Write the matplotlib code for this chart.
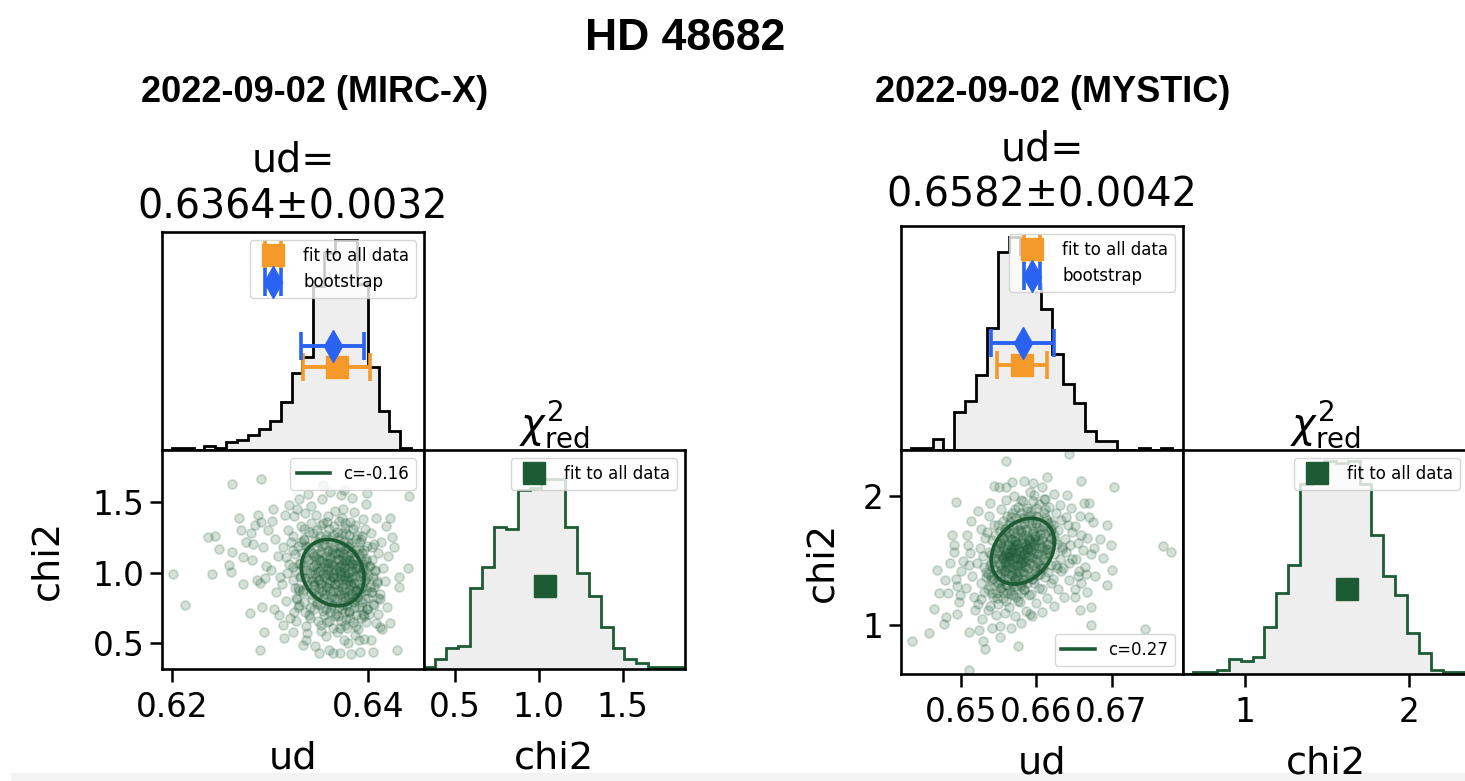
import numpy as np
import matplotlib.pyplot as plt
from matplotlib.patches import Rectangle

# ---- HD 48682, 2022-09-02: uniform disk fits, MIRC-X and MYSTIC ----

# bootstrap samples (ud [mas], reduced chi2), MIRC-X
mircx_boot = np.array([
    [0.6201, 0.993], [0.6213, 0.770], [0.6237, 1.251], [0.6241, 0.993], [0.6244, 1.263], [0.6248, 1.169],
    [0.6261, 1.627], [0.6261, 1.145], [0.6258, 1.051], [0.6260, 1.004],
    [0.6268, 1.391], [0.6273, 0.923], [0.6273, 1.110], [0.6270, 1.300], [0.6276, 1.220],
    [0.6280, 0.711], [0.6282, 1.090], [0.6285, 1.340], [0.6283, 1.200], [0.6287, 0.950], [0.6281, 1.280], [0.6288, 1.410],
    [0.6291, 1.662], [0.6294, 0.582], [0.6290, 0.453], [0.6292, 0.758], [0.6290, 0.930], [0.6295, 0.960],
    [0.6293, 1.180], [0.6298, 1.300], [0.6296, 1.050], [0.6291, 1.360],
    [0.6302, 1.368], [0.6309, 0.699], [0.6304, 0.740], [0.6306, 0.860], [0.6301, 1.020], [0.6308, 1.120],
    [0.6303, 1.450], [0.6310, 0.970], [0.6305, 1.240],
    [0.6314, 0.535], [0.6316, 0.800], [0.6312, 0.920], [0.6319, 1.060], [0.6313, 1.180], [0.6318, 1.300],
    [0.6315, 1.410], [0.6320, 0.680], [0.6317, 1.000], [0.6321, 1.220], [0.6313, 0.630], [0.6319, 1.480], [0.6316, 1.110],
    [0.6323, 0.58], [0.6325, 0.72], [0.6328, 0.81], [0.6330, 0.88], [0.6324, 0.95], [0.6327, 1.01], [0.6331, 1.07],
    [0.6326, 1.13], [0.6329, 1.19], [0.6323, 1.26], [0.6332, 1.33], [0.6325, 1.40], [0.6330, 1.52], [0.6327, 0.66],
    [0.6331, 0.97], [0.6324, 1.16], [0.6328, 1.45], [0.6326, 0.89], [0.6332, 1.22], [0.6329, 0.76], [0.6323, 1.04],
    [0.6334, 0.49], [0.6337, 0.62], [0.6340, 0.70], [0.6335, 0.79], [0.6342, 0.85], [0.6338, 0.91], [0.6336, 0.96],
    [0.6341, 1.00], [0.6334, 1.05], [0.6339, 1.09], [0.6343, 1.14], [0.6337, 1.19], [0.6335, 1.24], [0.6340, 1.29],
    [0.6342, 1.35], [0.6336, 1.42], [0.6339, 1.56], [0.6341, 0.75], [0.6334, 0.88], [0.6338, 1.02], [0.6343, 0.94],
    [0.6337, 1.11], [0.6340, 1.17], [0.6335, 1.31], [0.6342, 1.47], [0.6338, 0.57],
    [0.6346, 0.48], [0.6352, 0.59], [0.6349, 0.66], [0.6355, 0.70], [0.6345, 0.74], [0.6351, 0.77], [0.6348, 0.79],
    [0.6354, 0.82], [0.6347, 0.84], [0.6353, 0.87], [0.6350, 0.89], [0.6345, 0.91], [0.6352, 0.93], [0.6349, 0.95],
    [0.6355, 0.97], [0.6346, 0.99], [0.6351, 1.01], [0.6348, 1.03], [0.6354, 1.04], [0.6347, 1.06], [0.6353, 1.08],
    [0.6350, 1.10], [0.6345, 1.12], [0.6352, 1.15], [0.6349, 1.18], [0.6355, 1.20], [0.6346, 1.23], [0.6351, 1.26],
    [0.6348, 1.30], [0.6354, 1.35], [0.6347, 1.41], [0.6353, 1.52],
    [0.6360, 0.45], [0.6357, 0.55], [0.6364, 0.61], [0.6358, 0.65], [0.6366, 0.69], [0.6361, 0.72], [0.6357, 0.74],
    [0.6363, 0.77], [0.6359, 0.79], [0.6365, 0.81], [0.6362, 0.83], [0.6356, 0.85], [0.6364, 0.87], [0.6360, 0.89],
    [0.6358, 0.90], [0.6366, 0.92], [0.6361, 0.94], [0.6357, 0.96], [0.6363, 0.97], [0.6359, 0.99], [0.6365, 1.00],
    [0.6362, 1.02], [0.6358, 1.03], [0.6364, 1.05], [0.6360, 1.07], [0.6366, 1.08], [0.6361, 1.10], [0.6357, 1.12],
    [0.6363, 1.14], [0.6359, 1.16], [0.6365, 1.18], [0.6362, 1.21], [0.6356, 1.24], [0.6364, 1.27], [0.6360, 1.31],
    [0.6358, 1.36], [0.6366, 1.44], [0.6361, 1.57],
    [0.6371, 0.43], [0.6375, 0.52], [0.6368, 0.58], [0.6377, 0.63], [0.6372, 0.66], [0.6369, 0.69], [0.6376, 0.72],
    [0.6373, 0.74], [0.6370, 0.76], [0.6374, 0.79], [0.6368, 0.81], [0.6377, 0.83], [0.6371, 0.85], [0.6375, 0.86],
    [0.6369, 0.88], [0.6373, 0.90], [0.6376, 0.92], [0.6370, 0.93], [0.6374, 0.95], [0.6368, 0.97], [0.6372, 0.98],
    [0.6377, 1.00], [0.6371, 1.01], [0.6375, 1.03], [0.6369, 1.04], [0.6373, 1.06], [0.6376, 1.08], [0.6370, 1.09],
    [0.6374, 1.11], [0.6368, 1.13], [0.6372, 1.15], [0.6377, 1.17], [0.6371, 1.19], [0.6375, 1.22], [0.6369, 1.25],
    [0.6373, 1.28], [0.6376, 1.32], [0.6370, 1.37], [0.6374, 1.45], [0.6372, 1.55],
    [0.6383, 0.42], [0.6380, 0.50], [0.6387, 0.56], [0.6379, 0.61], [0.6385, 0.65], [0.6382, 0.68], [0.6388, 0.70],
    [0.6381, 0.73], [0.6386, 0.75], [0.6379, 0.77], [0.6384, 0.79], [0.6387, 0.81], [0.6380, 0.83], [0.6383, 0.85],
    [0.6388, 0.87], [0.6381, 0.88], [0.6385, 0.90], [0.6382, 0.92], [0.6386, 0.93], [0.6379, 0.95], [0.6384, 0.97],
    [0.6387, 0.98], [0.6380, 1.00], [0.6383, 1.01], [0.6388, 1.03], [0.6381, 1.05], [0.6385, 1.06], [0.6382, 1.08],
    [0.6386, 1.10], [0.6379, 1.12], [0.6384, 1.14], [0.6387, 1.16], [0.6380, 1.18], [0.6383, 1.21], [0.6388, 1.24],
    [0.6381, 1.27], [0.6385, 1.31], [0.6382, 1.36], [0.6386, 1.43], [0.6384, 1.53],
    [0.6392, 0.44], [0.6396, 0.53], [0.6390, 0.60], [0.6398, 0.65], [0.6393, 0.68], [0.6395, 0.71], [0.6399, 0.74],
    [0.6391, 0.76], [0.6394, 0.79], [0.6397, 0.81], [0.6390, 0.83], [0.6393, 0.86], [0.6398, 0.88], [0.6395, 0.90],
    [0.6391, 0.92], [0.6396, 0.94], [0.6399, 0.96], [0.6392, 0.98], [0.6394, 1.00], [0.6397, 1.02], [0.6390, 1.04],
    [0.6395, 1.06], [0.6398, 1.08], [0.6393, 1.10], [0.6391, 1.13], [0.6396, 1.16], [0.6399, 1.19], [0.6392, 1.22],
    [0.6394, 1.26], [0.6397, 1.31], [0.6395, 1.38], [0.6398, 1.49],
    [0.6403, 0.52], [0.6408, 0.64], [0.6401, 0.71], [0.6406, 0.77], [0.6410, 0.82], [0.6404, 0.86], [0.6402, 0.90],
    [0.6409, 0.93], [0.6405, 0.97], [0.6407, 1.01], [0.6401, 1.05], [0.6404, 1.09], [0.6410, 1.14], [0.6406, 1.20],
    [0.6403, 1.28], [0.6408, 1.39],
    [0.6414, 0.60], [0.6419, 0.76], [0.6412, 0.85], [0.6417, 0.94], [0.6415, 1.03], [0.6420, 1.12], [0.6413, 1.22],
    [0.6418, 1.33],
    [0.6422, 1.391], [0.6424, 1.250], [0.6426, 1.180], [0.6432, 0.970], [0.6432, 0.900], [0.6422, 0.641],
    [0.6429, 0.453], [0.6442, 1.544], [0.6441, 1.030],
    [0.6405, 0.441], [0.6364, 0.430], [0.6350, 0.430], [0.6337, 0.521], [0.6391, 0.523], [0.6412, 0.615],
    [0.6354, 1.622], [0.6375, 1.586], [0.6399, 1.563],
    # dense core
    [0.6352, 0.63], [0.6371, 0.61], [0.6388, 0.62],
    [0.6341, 0.68], [0.6360, 0.66], [0.6378, 0.67], [0.6396, 0.69],
    [0.6336, 0.72], [0.6354, 0.73], [0.6367, 0.71], [0.6381, 0.72], [0.6399, 0.74], [0.6410, 0.71],
    [0.6330, 0.77], [0.6348, 0.78], [0.6362, 0.76], [0.6374, 0.77], [0.6386, 0.79], [0.6394, 0.76], [0.6405, 0.78],
    [0.6327, 0.82], [0.6343, 0.81], [0.6356, 0.83], [0.6366, 0.82], [0.6377, 0.80], [0.6389, 0.83], [0.6400, 0.82],
    [0.6412, 0.81],
    [0.6334, 0.86], [0.6350, 0.85], [0.6361, 0.87], [0.6370, 0.86], [0.6380, 0.84], [0.6391, 0.87], [0.6403, 0.86],
    [0.6346, 0.88], [0.6384, 0.85],
    [0.6329, 0.89], [0.6345, 0.91], [0.6357, 0.90], [0.6366, 0.92], [0.6374, 0.88], [0.6383, 0.91], [0.6393, 0.89],
    [0.6406, 0.90], [0.6352, 0.92], [0.6388, 0.88],
    [0.6338, 0.94], [0.6350, 0.95], [0.6360, 0.93], [0.6369, 0.94], [0.6377, 0.96], [0.6386, 0.93], [0.6397, 0.95],
    [0.6409, 0.94], [0.6343, 0.96], [0.6381, 0.94], [0.6365, 0.96],
    [0.6332, 0.98], [0.6347, 0.97], [0.6357, 0.99], [0.6364, 0.98], [0.6372, 1.00], [0.6380, 0.97], [0.6389, 0.99],
    [0.6400, 0.98], [0.6354, 1.00], [0.6376, 0.98], [0.6393, 1.00],
    [0.6336, 1.02], [0.6349, 1.01], [0.6359, 1.03], [0.6367, 1.02], [0.6375, 1.04], [0.6384, 1.01], [0.6395, 1.03],
    [0.6407, 1.02], [0.6344, 1.04], [0.6371, 1.01], [0.6388, 1.03],
    [0.6330, 1.06], [0.6345, 1.05], [0.6355, 1.07], [0.6363, 1.06], [0.6371, 1.05], [0.6379, 1.07], [0.6390, 1.06],
    [0.6402, 1.05], [0.6358, 1.07], [0.6384, 1.06],
    [0.6340, 1.10], [0.6351, 1.09], [0.6361, 1.11], [0.6369, 1.10], [0.6377, 1.09], [0.6386, 1.11], [0.6398, 1.10],
    [0.6347, 1.11], [0.6381, 1.09],
    [0.6333, 1.14], [0.6348, 1.13], [0.6358, 1.15], [0.6366, 1.14], [0.6374, 1.13], [0.6383, 1.15], [0.6394, 1.14],
    [0.6370, 1.15],
    [0.6339, 1.18], [0.6353, 1.19], [0.6363, 1.17], [0.6372, 1.18], [0.6381, 1.19], [0.6391, 1.17], [0.6404, 1.18],
    [0.6335, 1.23], [0.6349, 1.22], [0.6360, 1.24], [0.6370, 1.23], [0.6380, 1.22], [0.6393, 1.24],
    [0.6344, 1.28], [0.6357, 1.27], [0.6368, 1.29], [0.6378, 1.28], [0.6389, 1.27],
    [0.6352, 1.34], [0.6365, 1.33], [0.6376, 1.35], [0.6387, 1.34],
    [0.6359, 1.40], [0.6373, 1.39],
])

# bootstrap samples (ud [mas], reduced chi2), MYSTIC
mystic_boot = np.array([
    [0.6435, 0.876], [0.6457, 0.938], [0.6464, 1.127], [0.6468, 1.424], [0.6470, 1.250], [0.6477, 1.011], [0.6480, 1.062],
    [0.6478, 1.35], [0.6485, 1.48], [0.6490, 1.62], [0.6482, 1.25], [0.6488, 1.70],
    [0.6493, 1.953], [0.6495, 1.088], [0.6491, 1.566], [0.6495, 1.300], [0.6500, 1.420], [0.6497, 1.180],
    [0.6502, 1.500], [0.6493, 1.360], [0.6499, 1.230],
    [0.6511, 0.946], [0.6511, 0.649], [0.6513, 1.812], [0.6508, 1.700], [0.6515, 1.380], [0.6510, 1.470],
    [0.6517, 1.220], [0.6506, 1.290], [0.6512, 1.560], [0.6518, 1.120], [0.6509, 1.620],
    [0.6524, 0.959], [0.6528, 1.05], [0.6522, 1.16], [0.6531, 1.26], [0.6526, 1.33], [0.6533, 1.41], [0.6521, 1.48],
    [0.6529, 1.54], [0.6525, 1.60], [0.6532, 1.68], [0.6527, 1.75], [0.6523, 1.89], [0.6530, 1.45], [0.6526, 1.20],
    [0.6533, 1.37], [0.6529, 0.88],
    [0.6537, 1.85], [0.6544, 2.083], [0.6532, 0.817], [0.6541, 0.98], [0.6546, 1.08], [0.6538, 1.15], [0.6543, 1.22],
    [0.6536, 1.28], [0.6547, 1.33], [0.6540, 1.38], [0.6545, 1.43], [0.6539, 1.47], [0.6542, 1.52], [0.6537, 1.57],
    [0.6546, 1.61], [0.6541, 1.66], [0.6535, 1.72], [0.6544, 1.78], [0.6538, 1.95], [0.6547, 1.25], [0.6540, 1.55],
    [0.6543, 1.36], [0.6536, 1.12], [0.6545, 1.70],
    [0.6551, 0.99], [0.6558, 1.09], [0.6549, 1.16], [0.6555, 1.21], [0.6561, 1.25], [0.6553, 1.29], [0.6559, 1.31],
    [0.6550, 1.33], [0.6556, 1.36], [0.6562, 1.38], [0.6552, 1.40], [0.6557, 1.42], [0.6554, 1.44], [0.6560, 1.46],
    [0.6551, 1.48], [0.6558, 1.49], [0.6549, 1.51], [0.6555, 1.53], [0.6561, 1.54], [0.6553, 1.55], [0.6559, 1.57],
    [0.6550, 1.58], [0.6556, 1.60], [0.6562, 1.62], [0.6552, 1.64], [0.6557, 1.66], [0.6554, 1.68], [0.6560, 1.70],
    [0.6551, 1.73], [0.6558, 1.75], [0.6549, 1.78], [0.6555, 1.81], [0.6561, 1.85], [0.6553, 1.90], [0.6559, 1.97],
    [0.6550, 2.07], [0.6556, 1.52], [0.6562, 1.56], [0.6552, 1.63],
    [0.6566, 0.98], [0.6572, 1.07], [0.6564, 1.14], [0.6575, 1.19], [0.6569, 1.23], [0.6565, 1.27], [0.6573, 1.30],
    [0.6568, 1.32], [0.6576, 1.35], [0.6570, 1.37], [0.6567, 1.39], [0.6574, 1.41], [0.6571, 1.43], [0.6566, 1.45],
    [0.6572, 1.47], [0.6564, 1.49], [0.6575, 1.51], [0.6569, 1.52], [0.6565, 1.54], [0.6573, 1.55], [0.6568, 1.57],
    [0.6576, 1.58], [0.6570, 1.60], [0.6567, 1.62], [0.6574, 1.63], [0.6571, 1.65], [0.6566, 1.67], [0.6572, 1.69],
    [0.6564, 1.71], [0.6575, 1.74], [0.6569, 1.77], [0.6565, 1.80], [0.6573, 1.83], [0.6568, 1.87], [0.6576, 1.92],
    [0.6570, 2.00], [0.6567, 2.11], [0.6574, 1.46], [0.6571, 1.53], [0.6566, 1.59], [0.6572, 1.36], [0.6564, 1.72],
    [0.6580, 1.02], [0.6586, 1.11], [0.6578, 1.18], [0.6590, 1.23], [0.6583, 1.27], [0.6579, 1.30], [0.6588, 1.33],
    [0.6582, 1.35], [0.6591, 1.38], [0.6584, 1.40], [0.6581, 1.42], [0.6589, 1.44], [0.6585, 1.46], [0.6580, 1.48],
    [0.6586, 1.50], [0.6578, 1.52], [0.6590, 1.54], [0.6583, 1.56], [0.6579, 1.57], [0.6588, 1.59], [0.6582, 1.61],
    [0.6591, 1.63], [0.6584, 1.64], [0.6581, 1.66], [0.6589, 1.68], [0.6585, 1.70], [0.6580, 1.72], [0.6586, 1.75],
    [0.6578, 1.78], [0.6590, 1.80], [0.6583, 1.83], [0.6579, 1.87], [0.6588, 1.91], [0.6582, 1.96], [0.6591, 2.03],
    [0.6584, 2.12], [0.6581, 1.49], [0.6589, 1.60], [0.6585, 1.36],
    [0.6594, 1.07], [0.6600, 1.17], [0.6593, 1.24], [0.6604, 1.29], [0.6597, 1.33], [0.6595, 1.36], [0.6602, 1.39],
    [0.6598, 1.42], [0.6605, 1.44], [0.6596, 1.47], [0.6601, 1.49], [0.6599, 1.51], [0.6594, 1.53], [0.6600, 1.56],
    [0.6593, 1.58], [0.6604, 1.60], [0.6597, 1.62], [0.6595, 1.64], [0.6602, 1.66], [0.6598, 1.69], [0.6605, 1.71],
    [0.6596, 1.73], [0.6601, 1.76], [0.6599, 1.79], [0.6594, 1.82], [0.6600, 1.85], [0.6593, 1.89], [0.6604, 1.94],
    [0.6597, 2.01], [0.6595, 2.10], [0.6602, 1.55], [0.6598, 1.67], [0.6605, 1.40],
    [0.6608, 1.10], [0.6614, 1.21], [0.6607, 1.28], [0.6619, 1.33], [0.6611, 1.37], [0.6616, 1.41], [0.6609, 1.44],
    [0.6620, 1.47], [0.6613, 1.50], [0.6610, 1.53], [0.6617, 1.56], [0.6612, 1.58], [0.6608, 1.61], [0.6614, 1.63],
    [0.6607, 1.66], [0.6619, 1.68], [0.6611, 1.71], [0.6616, 1.74], [0.6609, 1.77], [0.6620, 1.80], [0.6613, 1.83],
    [0.6610, 1.87], [0.6617, 1.92], [0.6612, 1.98], [0.6608, 2.07], [0.6614, 1.59], [0.6607, 1.45], [0.6619, 1.75],
    [0.6623, 1.15], [0.6629, 1.28], [0.6622, 1.36], [0.6633, 1.42], [0.6626, 1.47], [0.6631, 1.51], [0.6624, 1.55],
    [0.6634, 1.59], [0.6628, 1.63], [0.6625, 1.66], [0.6623, 1.70], [0.6629, 1.74], [0.6622, 1.78], [0.6633, 1.82],
    [0.6626, 1.87], [0.6631, 1.93], [0.6624, 2.02], [0.6634, 1.61], [0.6628, 1.44],
    [0.6637, 1.22], [0.6643, 1.35], [0.6636, 1.44], [0.6647, 1.51], [0.6640, 1.57], [0.6645, 1.62], [0.6638, 1.67],
    [0.6648, 1.72], [0.6642, 1.78], [0.6639, 1.84], [0.6646, 1.91], [0.6641, 2.01], [0.6644, 1.48],
    [0.6651, 1.28], [0.6657, 1.42], [0.6653, 1.51], [0.6662, 1.58], [0.6655, 1.64], [0.6660, 1.70], [0.6652, 1.77],
    [0.6658, 1.85], [0.6663, 1.95], [0.6656, 1.38],
    [0.6666, 1.40], [0.6672, 1.55], [0.6668, 1.68], [0.6675, 1.80], [0.6670, 1.95],
    [0.6665, 1.45], [0.6678, 1.38], [0.6660, 1.33], [0.6668, 1.26], [0.6676, 1.60], [0.6652, 1.22], [0.6658, 1.12],
    [0.6559, 2.277], [0.6575, 0.835], [0.6551, 0.907], [0.6560, 2.07], [0.6591, 1.088], [0.6643, 2.329],
    [0.6703, 2.075], [0.6768, 1.618], [0.6779, 1.566], [0.6694, 1.78], [0.6672, 1.14], [0.6672, 0.998],
    [0.6745, 0.972], [0.6701, 1.424], [0.6694, 1.308], [0.6659, 2.122], [0.6614, 2.147], [0.6670, 1.837],
    [0.6685, 1.67], [0.6688, 1.52], [0.6699, 1.62],
    # dense core
    [0.6548, 1.21], [0.6560, 1.19], [0.6573, 1.22],
    [0.6541, 1.25], [0.6555, 1.26], [0.6566, 1.24], [0.6579, 1.25],
    [0.6538, 1.30], [0.6551, 1.29], [0.6561, 1.31], [0.6570, 1.30], [0.6584, 1.28],
    [0.6540, 1.35], [0.6553, 1.34], [0.6562, 1.36], [0.6571, 1.35], [0.6580, 1.33], [0.6594, 1.36],
    [0.6536, 1.40], [0.6548, 1.39], [0.6558, 1.41], [0.6566, 1.40], [0.6574, 1.38], [0.6583, 1.41], [0.6597, 1.40],
    [0.6542, 1.44], [0.6553, 1.43], [0.6562, 1.45], [0.6569, 1.44], [0.6577, 1.42], [0.6586, 1.45], [0.6600, 1.44],
    [0.6558, 1.43],
    [0.6540, 1.48], [0.6551, 1.47], [0.6560, 1.49], [0.6568, 1.48], [0.6575, 1.46], [0.6583, 1.49], [0.6592, 1.48],
    [0.6605, 1.47], [0.6564, 1.50],
    [0.6545, 1.52], [0.6556, 1.51], [0.6564, 1.53], [0.6571, 1.52], [0.6578, 1.50], [0.6586, 1.53], [0.6595, 1.52],
    [0.6609, 1.51], [0.6560, 1.54], [0.6582, 1.51],
    [0.6547, 1.56], [0.6558, 1.55], [0.6566, 1.57], [0.6573, 1.56], [0.6580, 1.54], [0.6588, 1.57], [0.6597, 1.56],
    [0.6611, 1.55], [0.6569, 1.58], [0.6584, 1.55],
    [0.6550, 1.60], [0.6561, 1.59], [0.6569, 1.61], [0.6576, 1.60], [0.6583, 1.58], [0.6591, 1.61], [0.6600, 1.60],
    [0.6614, 1.59], [0.6572, 1.62], [0.6587, 1.59],
    [0.6553, 1.64], [0.6564, 1.63], [0.6572, 1.65], [0.6579, 1.64], [0.6586, 1.62], [0.6594, 1.65], [0.6604, 1.64],
    [0.6616, 1.63], [0.6590, 1.66],
    [0.6556, 1.68], [0.6567, 1.67], [0.6575, 1.69], [0.6582, 1.68], [0.6590, 1.66], [0.6598, 1.69], [0.6608, 1.68],
    [0.6620, 1.67],
    [0.6558, 1.73], [0.6570, 1.72], [0.6579, 1.74], [0.6587, 1.73], [0.6596, 1.71], [0.6606, 1.74], [0.6619, 1.73],
    [0.6562, 1.78], [0.6574, 1.77], [0.6584, 1.79], [0.6593, 1.78], [0.6603, 1.76], [0.6616, 1.79],
    [0.6566, 1.84], [0.6580, 1.83], [0.6591, 1.85], [0.6602, 1.84], [0.6614, 1.82],
    [0.6572, 1.90], [0.6587, 1.89], [0.6600, 1.91], [0.6612, 1.90],
    [0.6580, 1.97], [0.6596, 1.96], [0.6610, 1.98],
])

# histogram counts of the bootstrap runs
mircx_ud_counts = [1, 1, 0, 2, 1, 4, 5, 7, 10, 14, 23, 37, 45, 79, 95, 101, 101, 80, 40, 19, 9, 1]
mircx_ud_range = (0.6200, 0.6444)
mircx_chi2_counts = [1, 5, 10, 11, 39, 49, 68, 67, 86, 87, 91, 91, 68, 46, 35, 20, 10, 5, 3, 1, 1, 1]
mircx_chi2_range = (0.3094, 1.8626)

mystic_ud_counts = [1, 1, 5, 0, 18, 23, 35, 57, 93, 100, 92, 78, 66, 45, 31, 22, 9, 4, 4, 0, 0, 1, 0, 1]
mystic_ud_range = (0.6433, 0.6780)
mystic_chi2_counts = [0, 1, 1, 2, 7, 6, 8, 22, 38, 51, 89, 95, 100, 99, 100, 89, 65, 46, 37, 19, 10, 2, 1, 1]
mystic_chi2_range = (0.6092, 2.3516)

# fit results: (fit to all data, err), (bootstrap, err), chi2 of the fit, chi2 mean/std, correlation
mircx_fit = dict(ud=0.6368, ud_err=0.0034, ud_boot=0.6364, ud_boot_err=0.0032,
                 chi2=1.035, chi2_mean=1.00, chi2_std=0.235, corr=-0.16)
mystic_fit = dict(ud=0.6581, ud_err=0.0033, ud_boot=0.6582, ud_boot_err=0.0042,
                  chi2=1.624, chi2_mean=1.574, chi2_std=0.256, corr=0.27)

ORANGE = '#f39a2b'
BLUE = '#2a62f3'
GREEN = '#1d5b34'
FILL = '#eeeeee'

plt.rcParams['font.family'] = 'DejaVu Sans'
plt.rcParams['axes.linewidth'] = 1.9
plt.rcParams['xtick.major.size'] = 9
plt.rcParams['ytick.major.size'] = 9
plt.rcParams['xtick.major.width'] = 1.8
plt.rcParams['ytick.major.width'] = 1.8
plt.rcParams['xtick.major.pad'] = 7
plt.rcParams['xtick.labelsize'] = 23.5
plt.rcParams['ytick.labelsize'] = 23.5
plt.rcParams['axes.labelsize'] = 27.5
plt.rcParams['axes.titlesize'] = 28.5
plt.rcParams['legend.fontsize'] = 12

W, H = 1465, 781
fig = plt.figure(figsize=(W / 100, H / 100), dpi=100)


def box(x0, y0, x1, y1):
    # pixel box, origin top-left -> figure fraction
    return [x0 / W, 1 - y1 / H, (x1 - x0) / W, (y1 - y0) / H]


def corner(boxes, boot, ud_counts, ud_range, chi_counts, chi_range, f,
           ud_lim, chi_lim, ud_ticks, chi_ticks, corr_loc, ylabelpad, title_pad):
    b_top, b_sc, b_chi = boxes

    # ud histogram with the two estimates
    ax0 = fig.add_axes(box(*b_top))
    edges = np.linspace(ud_range[0], ud_range[1], len(ud_counts) + 1)
    ax0.stairs(ud_counts, edges, fill=True, color=FILL)
    ax0.stairs(ud_counts, edges, color='k', lw=2.0)
    ax0.errorbar(f['ud'], 40, xerr=f['ud_err'], fmt='s', color=ORANGE, ms=16,
                 elinewidth=2.8, capsize=10, capthick=2.6, label='fit to all data')
    ax0.errorbar(f['ud_boot'], 50, xerr=f['ud_boot_err'], fmt='d', color=BLUE, ms=16,
                 elinewidth=2.8, capsize=10, capthick=2.6, label='bootstrap')
    ax0.set_xlim(ud_lim)
    ax0.set_ylim(0, 105)
    ax0.set_xticks([])
    ax0.set_yticks([])
    ax0.legend(loc='upper right')
    ax0.set_title(f"ud=\n{f['ud_boot']:.4f}\u00b1{f['ud_boot_err']:.4f}", pad=title_pad)

    # ud vs chi2 with 1-sigma ellipse
    ax1 = fig.add_axes(box(*b_sc))
    ax1.plot(boot[:, 0], boot[:, 1], 'o', color=GREEN, alpha=0.19, ms=6.5, mew=1.3)
    t = np.linspace(0, 2 * np.pi, 200)
    c = f['corr']
    ex = f['ud_boot'] + f['ud_boot_err'] * np.cos(t)
    ey = f['chi2_mean'] + f['chi2_std'] * (c * np.cos(t) + np.sqrt(1 - c ** 2) * np.sin(t))
    ax1.plot(ex, ey, color=GREEN, lw=2.6, label=f'c={c:.2f}')
    ax1.set_xlim(ud_lim)
    ax1.set_ylim(chi_lim)
    ax1.set_xticks(ud_ticks)
    ax1.set_yticks(chi_ticks)
    ax1.set_xlabel('ud', labelpad=12)
    ax1.set_ylabel('chi2', labelpad=ylabelpad)
    ax1.legend(loc=corr_loc)

    # chi2 histogram
    ax2 = fig.add_axes(box(*b_chi))
    edges = np.linspace(chi_range[0], chi_range[1], len(chi_counts) + 1)
    ax2.stairs(chi_counts, edges, fill=True, color=FILL)
    ax2.stairs(chi_counts, edges, color=GREEN, lw=2.0)
    ax2.plot(f['chi2'], 40, 's', color=GREEN, ms=16, label='fit to all data')
    ax2.set_xlim(chi_lim)
    ax2.set_ylim(0, 105)
    ax2.set_xticks(chi_ticks)
    ax2.set_yticks([])
    ax2.set_xlabel('chi2', labelpad=12)
    ax2.set_title(r'$\chi^2_{\rm red}$')
    ax2.legend(loc='upper right')


corner([(162, 232, 424, 450), (162, 450, 424, 669), (424, 450, 685, 669)],
       mircx_boot, mircx_ud_counts, mircx_ud_range, mircx_chi2_counts, mircx_chi2_range,
       mircx_fit, (0.6190, 0.6457), (0.317, 1.870), [0.62, 0.64], [0.5, 1.0, 1.5], 'upper right', 20, 10)

corner([(901, 226, 1183, 450), (901, 450, 1183, 674), (1183, 450, 1468, 674)],
       mystic_boot, mystic_ud_counts, mystic_ud_range, mystic_chi2_counts, mystic_chi2_range,
       mystic_fit, (0.6420, 0.6795), (0.620, 2.360), [0.65, 0.66, 0.67], [1, 2], 'lower right', 16, 14)

fig.text(685 / W, 1 - 38 / H, 'HD 48682', ha='center', va='center',
         fontsize=32, fontweight='bold', family='Liberation Sans')
fig.text(315 / W, 1 - 92 / H, '2022-09-02 (MIRC-X)', ha='center', va='center',
         fontsize=26, fontweight='bold', family='Liberation Sans')
fig.text(1053 / W, 1 - 92 / H, '2022-09-02 (MYSTIC)', ha='center', va='center',
         fontsize=26, fontweight='bold', family='Liberation Sans')

# light strip along the bottom edge
fig.add_artist(Rectangle((11 / W, 0), 1, 8 / H, transform=fig.transFigure,
                         facecolor='#f3f3f3', edgecolor='none', zorder=-5))

fig.savefig('out.png', dpi=100)
